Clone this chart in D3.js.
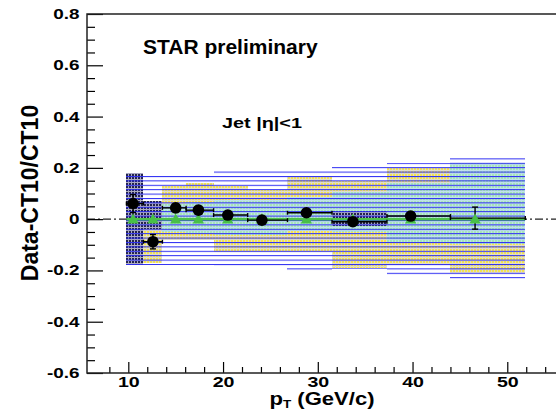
<!DOCTYPE html>
<html>
<head>
<meta charset="utf-8">
<script src="https://cdn.jsdelivr.net/npm/d3@7"></script>
<style>
  body { margin: 0; background: #fff; }
  svg { display: block; }
  text { font-family: "Liberation Sans", Arial, Helvetica, sans-serif; font-weight: bold; fill: #000; }
</style>
</head>
<body>
<svg id="chart" width="556" height="412"></svg>
<script>
// pT bins (GeV/c)
const binLow  = [9.8, 11.6, 13.6, 16.1, 19.0, 22.6, 26.8, 31.5, 37.3, 44.0];
const binHigh = [11.6, 13.6, 16.1, 19.0, 22.6, 26.8, 31.5, 37.3, 44.0, 51.9];
const ptMean  = [10.5, 12.6, 15.0, 17.4, 20.5, 24.1, 28.8, 33.7, 39.8, 46.6];

// (Data - CT10)/CT10 with statistical errors
const dataRatio = [0.061, -0.088, 0.044, 0.035, 0.016, -0.004, 0.025, -0.010, 0.012, 0.004];
const statErr   = [0.035, 0.028, 0.016, 0.015, 0.010, 0.008, 0.010, 0.008, 0.010, 0.043];

// CT10 reference (zero by construction)
const theoryRatio = [0, 0, 0, 0, 0, 0, 0, 0, 0, 0];

// outer systematic band (blue hatching)
const sysOuterHi = [0.180, 0.175, 0.175, 0.175, 0.190, 0.190, 0.190, 0.205, 0.218, 0.237];
const sysOuterLo = [-0.180, -0.180, -0.180, -0.180, -0.190, -0.190, -0.205, -0.195, -0.220, -0.238];

// second systematic band (yellow)
const sysMidHi = [0.000, 0.000, 0.130, 0.140, 0.130, 0.115, 0.167, 0.150, 0.200, 0.200];
const sysMidLo = [-0.170, -0.170, -0.080, -0.080, -0.130, -0.130, -0.130, -0.190, -0.180, -0.210];

// theory uncertainty band (green)
const sysTheoHi = [0.010, 0.010, 0.060, 0.065, 0.075, 0.075, 0.085, 0.105, 0.140, 0.220];
const sysTheoLo = [-0.020, -0.020, -0.050, -0.055, -0.060, -0.060, -0.045, -0.050, -0.090, -0.095];

// point-to-point boxes (dark checker)
const boxHi = [0.180, 0.070, null, null, null, null, null, 0.030, null, null];
const boxLo = [-0.180, -0.040, null, null, null, null, null, -0.025, null, null];

// axis ticks
const xTicks = [10, 20, 30, 40, 50];
const yTicks = [-0.6, -0.4, -0.2, 0, 0.2, 0.4, 0.6, 0.8];

const svg = d3.select("#chart");
const L = 87, R = 557.5, T = 14, B = 373;
const x = d3.scaleLinear().domain([5.64, 55.3]).range([L, R]);
const y = d3.scaleLinear().domain([-0.6, 0.8]).range([B, T]);

// fill patterns
const defs = svg.append("defs");
function dotPattern(id, size, fg, bg) {
  const p = defs.append("pattern").attr("id", id)
    .attr("patternUnits", "userSpaceOnUse").attr("width", size).attr("height", size);
  p.append("rect").attr("width", size).attr("height", size).attr("fill", bg);
  p.append("rect").attr("width", size - 1).attr("height", size - 1).attr("fill", fg);
}
dotPattern("pYellow", 3, "#f4e44e", "#e2dec8");
dotPattern("pGreen", 3, "#a6e6b6", "#c0e2e8");
dotPattern("pDark", 3, "#24244c", "#acacbe");
const hatch = defs.append("pattern").attr("id", "pBlue")
  .attr("patternUnits", "userSpaceOnUse").attr("width", 8).attr("height", 4.4);
hatch.append("rect").attr("x", 0).attr("y", 0).attr("width", 8).attr("height", 1).attr("fill", "#2a2af2");

const bins = d3.range(binLow.length);

function band(hi, lo, fill, cls) {
  svg.append("g").attr("class", cls).selectAll("rect")
    .data(bins.filter(i => hi[i] !== null))
    .join("rect")
    .attr("x", i => x(binLow[i]))
    .attr("width", i => x(binHigh[i]) - x(binLow[i]))
    .attr("y", i => y(hi[i]))
    .attr("height", i => y(lo[i]) - y(hi[i]))
    .attr("fill", fill)
    .attr("shape-rendering", "crispEdges");
}
band(sysMidHi, sysMidLo, "url(#pYellow)", "band-mid");
band(sysTheoHi, sysTheoLo, "url(#pGreen)", "band-theory");
band(boxHi, boxLo, "url(#pDark)", "box");
band(sysOuterHi, sysOuterLo, "url(#pBlue)", "band-outer");

// zero reference line (dash-dot)
svg.append("line")
  .attr("x1", L).attr("x2", R).attr("y1", y(0)).attr("y2", y(0))
  .attr("stroke", "#222").attr("stroke-width", 1.2)
  .attr("stroke-dasharray", "8,3,2,3");

// CT10 line
svg.append("line")
  .attr("x1", x(binLow[0])).attr("x2", x(binHigh[binHigh.length - 1]))
  .attr("y1", y(0)).attr("y2", y(0))
  .attr("stroke", "#4cc04c").attr("stroke-width", 2.5);

// data error bars
const pts = svg.append("g").attr("class", "data");
const cap = 3;
bins.forEach(i => {
  const cx = x(ptMean[i]), cy = y(dataRatio[i]);
  const g = pts.append("g").attr("stroke", "#000").attr("stroke-width", 1.4).attr("fill", "none");
  g.append("line").attr("x1", x(binLow[i])).attr("x2", x(binHigh[i])).attr("y1", cy).attr("y2", cy);
  g.append("line").attr("x1", x(binLow[i])).attr("x2", x(binLow[i])).attr("y1", cy - cap + 1).attr("y2", cy + cap - 1);
  g.append("line").attr("x1", x(binHigh[i])).attr("x2", x(binHigh[i])).attr("y1", cy - cap + 1).attr("y2", cy + cap - 1);
  const yt = y(dataRatio[i] + statErr[i]), yb = y(dataRatio[i] - statErr[i]);
  g.append("line").attr("x1", cx).attr("x2", cx).attr("y1", yt).attr("y2", yb);
  g.append("line").attr("x1", cx - cap).attr("x2", cx + cap).attr("y1", yt).attr("y2", yt);
  g.append("line").attr("x1", cx - cap).attr("x2", cx + cap).attr("y1", yb).attr("y2", yb);
});

// CT10 markers
const tri = d3.symbol().type(d3.symbolTriangle).size(56);
svg.append("g").selectAll("path").data(bins).join("path")
  .attr("d", tri)
  .attr("transform", i => `translate(${x(ptMean[i])},${y(theoryRatio[i]) + 1})`)
  .attr("fill", "#48bf48");

// data markers
svg.append("g").selectAll("circle").data(bins.slice(0, bins.length - 1)).join("circle")
  .attr("cx", i => x(ptMean[i])).attr("cy", i => y(dataRatio[i]))
  .attr("r", 5.8).attr("fill", "#000");

// axes
const axes = svg.append("g");
const xAxis = axes.append("g").attr("transform", `translate(0,${B})`)
  .call(d3.axisBottom(x).tickValues(xTicks).tickSize(-11).tickPadding(3).tickFormat(d3.format("d")));
axes.append("g").attr("transform", `translate(0,${B})`)
  .call(d3.axisBottom(x).tickValues(d3.range(8, 56, 2).filter(v => v % 10 !== 0)).tickSize(-6).tickFormat(""));
const yAxis = axes.append("g").attr("transform", `translate(${L},0)`)
  .call(d3.axisLeft(y).tickValues(yTicks).tickSize(-16).tickPadding(7)
    .tickFormat(v => Math.abs(v) < 1e-9 ? "0" : v.toFixed(1)));
axes.append("g").attr("transform", `translate(${L},0)`)
  .call(d3.axisLeft(y).tickValues(d3.range(-0.55, 0.8, 0.05).filter(v => Math.abs(Math.round(v * 20) % 4) !== 0)).tickSize(-8).tickFormat(""));
axes.selectAll(".domain").remove();
axes.selectAll(".tick line").attr("stroke", "#000").attr("stroke-width", 1.2);

xAxis.selectAll(".tick text")
  .attr("font-size", 14).attr("dy", "0.76em")
  .attr("transform", "scale(1.4,1)")
  .attr("x", 0);
yAxis.selectAll(".tick text")
  .attr("font-size", 14)
  .attr("transform", "scale(1.35,1)")
  .attr("x", -5.5);

// frame
svg.append("rect").attr("x", L).attr("y", T).attr("width", R - L).attr("height", B - T)
  .attr("fill", "none").attr("stroke", "#222").attr("stroke-width", 1.5);

// titles
svg.append("text").attr("x", 143).attr("y", 54).attr("font-size", 21).text("STAR preliminary");
svg.append("text").attr("x", 222).attr("y", 128).attr("font-size", 14)
  .attr("textLength", 80).attr("lengthAdjust", "spacingAndGlyphs").text("Jet |η|<1");

svg.append("text")
  .attr("transform", "translate(38,193) rotate(-90)")
  .attr("text-anchor", "middle").attr("font-size", 23).text("Data-CT10/CT10");

const xt = svg.append("text").attr("x", 322).attr("y", 405).attr("text-anchor", "middle")
  .attr("font-size", 18).attr("textLength", 105).attr("lengthAdjust", "spacingAndGlyphs");
xt.append("tspan").text("p");
xt.append("tspan").attr("font-size", 11).attr("dy", 3).text("T");
xt.append("tspan").attr("dy", -3).text(" (GeV/c)");
</script>
</body>
</html>
